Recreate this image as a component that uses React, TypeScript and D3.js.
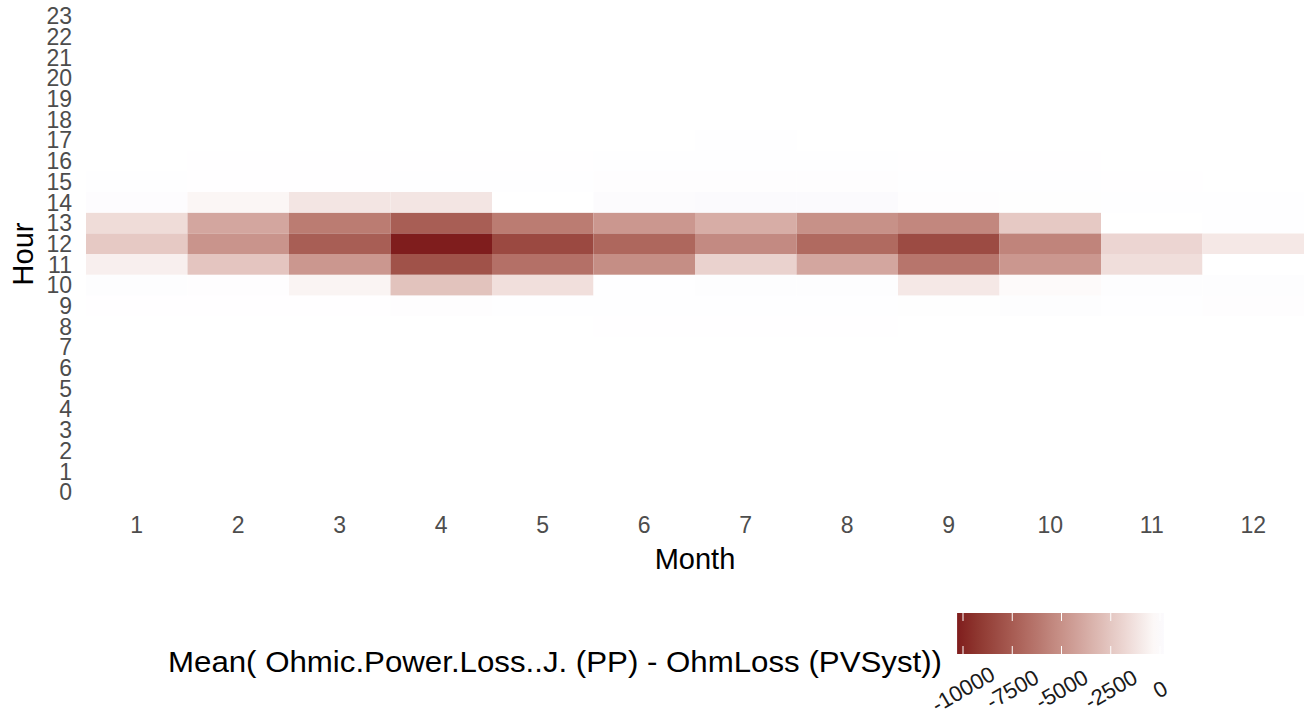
import React from "react";
import * as d3 from "d3";

const months = [1, 2, 3, 4, 5, 6, 7, 8, 9, 10, 11, 12];
const hours = d3.range(0, 24);

// Mean difference per month (1..12) for each hour row; null = no tile
const hour8 = [10, 10, 15, null, 15, 20, 20, 20, 10, null, null, null];
const hour9 = [20, 20, 20, 60, 30, 30, 30, 40, 50, 80, 30, 60];
const hour10 = [80, 60, -500, -2700, -1400, 40, 80, 80, -1000, -200, 80, 80];
const hour11 = [-700, -2570, -4700, -8000, -6550, -5150, -2000, -4000, -6300, -4700, -1450, 10];
const hour12 = [-2400, -4850, -7400, -10300, -8400, -7000, -5300, -6850, -8300, -5600, -1850, -1000];
const hour13 = [-1570, -4000, -6000, -7400, -6000, -4700, -3700, -5000, -5450, -2400, -5, 30];
const hour14 = [120, -400, -1150, -1150, 10, 150, 200, 200, 60, 50, 40, 30];
const hour15 = [30, 20, 20, 30, 30, 60, 60, 60, 30, 30, 20, null];
const hour16 = [null, 20, 20, 20, 20, 30, 30, 30, 20, 20, null, null];
const hour17 = [null, null, null, null, null, null, 30, null, null, null, null, null];

const rowHours = [8, 9, 10, 11, 12, 13, 14, 15, 16, 17];
const rowValues = [hour8, hour9, hour10, hour11, hour12, hour13, hour14, hour15, hour16, hour17];

const legendTicks = [-10000, -7500, -5000, -2500, 0];
const legendTitle = "Mean( Ohmic.Power.Loss..J. (PP) - OhmLoss (PVSyst))";

const LOW = "#7f1d1d";
const MID = "#ffffff";
const HIGH = "#00008b";

export default function App() {
  const cells: { m: number; h: number; v: number }[] = [];
  rowHours.forEach((h, i) => {
    rowValues[i].forEach((v, j) => {
      if (v !== null && v !== undefined) cells.push({ m: months[j], h, v: v as number });
    });
  });
  const vmin = d3.min(cells, (d) => d.v) as number;
  const vmax = d3.max(cells, (d) => d.v) as number;
  const maxAbs = Math.max(Math.abs(vmin), Math.abs(vmax));
  const color = (v: number) =>
    v < 0
      ? d3.interpolateLab(MID, LOW)(Math.min(1, -v / maxAbs))
      : d3.interpolateLab(MID, HIGH)(Math.min(1, v / maxAbs));

  const x = d3.scaleBand<number>().domain(months).range([86, 1304]).padding(0);
  const y = d3.scaleBand<number>().domain(hours).range([502.35, 5.65]).padding(0);

  const lx = d3.scaleLinear().domain([-10000, 0]).range([963, 1160]);
  const barX0 = lx(vmin);
  const barX1 = lx(vmax);
  const barY = 613;
  const barH = 41;
  const stops = d3.range(0, 21).map((i) => {
    const v = vmin + ((vmax - vmin) * i) / 20;
    return { off: i / 20, c: color(v) };
  });

  const font = "'Liberation Sans', Arial, Helvetica, sans-serif";

  return (
    <>
      <style>{`body{margin:0}`}</style>
      <svg width={1307} height={717} style={{ display: "block", fontFamily: font }}>
        <rect x={0} y={0} width={1307} height={717} fill="#ffffff" />
        <g>
          {cells.map((d, i) => (
            <rect
              key={i}
              x={x(d.m)}
              y={y(d.h)}
              width={x.bandwidth()}
              height={y.bandwidth()}
              fill={color(d.v)}
            />
          ))}
        </g>
        <g fill="#4d4d4d" fontSize={23}>
          {hours.map((h) => (
            <text key={h} x={72} y={(y(h) as number) + y.bandwidth() / 2} dy="0.36em" textAnchor="end">
              {h}
            </text>
          ))}
          {months.map((m) => (
            <text key={m} x={(x(m) as number) + x.bandwidth() / 2} y={533} textAnchor="middle">
              {m}
            </text>
          ))}
        </g>
        <text x={695} y={569} fontSize={29} textAnchor="middle" fill="#000">
          Month
        </text>
        <text transform={`translate(33,254) rotate(-90)`} fontSize={29} textAnchor="middle" fill="#000">
          Hour
        </text>
        <text x={168} y={672} fontSize={29} fill="#000" textLength={774} lengthAdjust="spacingAndGlyphs">
          {legendTitle}
        </text>
        <defs>
          <linearGradient id="lg" x1="0" x2="1" y1="0" y2="0">
            {stops.map((s, i) => (
              <stop key={i} offset={s.off} stopColor={s.c} />
            ))}
          </linearGradient>
        </defs>
        <rect x={barX0} y={barY} width={barX1 - barX0} height={barH} fill="url(#lg)" />
        <g stroke="#ffffff" strokeWidth={1}>
          {legendTicks.map((t) => (
            <g key={t}>
              <line x1={lx(t)} x2={lx(t)} y1={barY} y2={barY + 8} />
              <line x1={lx(t)} x2={lx(t)} y1={barY + barH - 8} y2={barY + barH} />
            </g>
          ))}
        </g>
        <g fontSize={22} fill="#1a1a1a">
          {legendTicks.map((t) => (
            <text
              key={t}
              transform={`translate(${lx(t)},689) rotate(-30)`}
              textAnchor="middle"
              dy="0.36em"
            >
              {t}
            </text>
          ))}
        </g>
      </svg>
    </>
  );
}
